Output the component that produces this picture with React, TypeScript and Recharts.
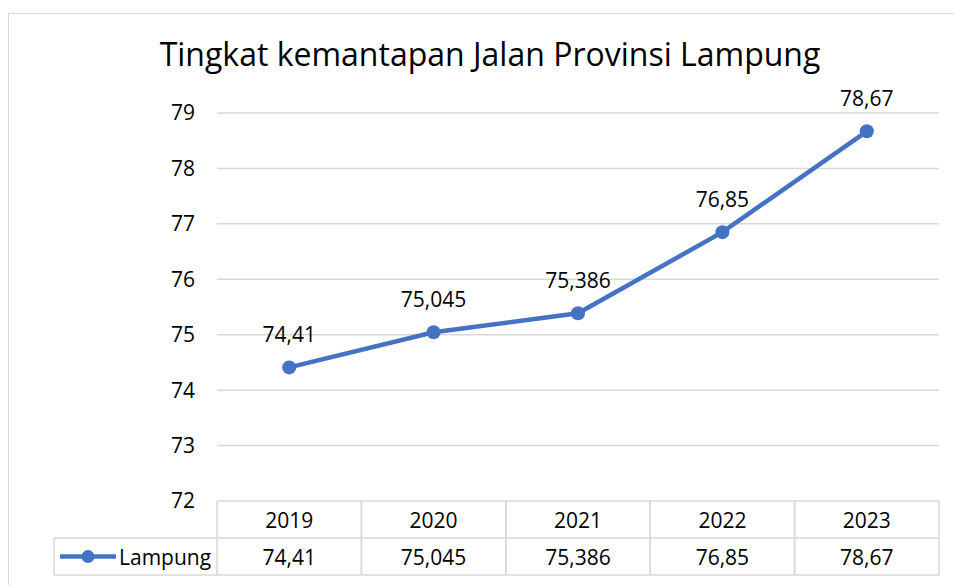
import React from 'react';
import { LineChart, CartesianGrid, XAxis, YAxis, Line, LabelList } from 'recharts';

const years = ['2019', '2020', '2021', '2022', '2023'];
const lampung = [74.41, 75.045, 75.386, 76.85, 78.67];
const yTicks = [72, 73, 74, 75, 76, 77, 78, 79];
const seriesName = 'Lampung';
const title = 'Tingkat kemantapan Jalan Provinsi Lampung';

const data = years.map((year, i) => ({ year, value: lampung[i] }));

const FONT = '"Open Sans", "Noto Sans", sans-serif';
const BLUE = '#4472C4';
const GRID = '#d9d9d9';
const HALF_CELL = 72.2;
const ROW_H = 37;
const FS = 21;

const fmt = (v: number) => String(v).replace('.', ',');

const TableTick = (props: any) => {
    const { x, y, index, payload } = props;
    const row = data[index];
    return (
        <g>
            <line x1={x - HALF_CELL} y1={y} x2={x - HALF_CELL} y2={y + ROW_H * 2} stroke={GRID} strokeWidth={1.5} />
            <line x1={x + HALF_CELL} y1={y} x2={x + HALF_CELL} y2={y + ROW_H * 2} stroke={GRID} strokeWidth={1.5} />
            <line x1={x - HALF_CELL} y1={y + ROW_H} x2={x + HALF_CELL} y2={y + ROW_H} stroke={GRID} strokeWidth={1.5} />
            <line x1={x - HALF_CELL} y1={y + ROW_H * 2} x2={x + HALF_CELL} y2={y + ROW_H * 2} stroke={GRID} strokeWidth={1.5} />
            <text x={x} y={y + ROW_H / 2} textAnchor="middle" dominantBaseline="central" fontSize={FS} fontFamily={FONT} fill="#000">
                {payload.value}
            </text>
            <text x={x} y={y + ROW_H * 1.5} textAnchor="middle" dominantBaseline="central" fontSize={FS} fontFamily={FONT} fill="#000">
                {fmt(row.value)}
            </text>
            {index === 0 && (
                <g>
                    <line x1={54} y1={y + ROW_H} x2={x - HALF_CELL} y2={y + ROW_H} stroke={GRID} strokeWidth={1.5} />
                    <line x1={54} y1={y + ROW_H * 2} x2={x - HALF_CELL} y2={y + ROW_H * 2} stroke={GRID} strokeWidth={1.5} />
                    <line x1={54} y1={y + ROW_H} x2={54} y2={y + ROW_H * 2} stroke={GRID} strokeWidth={1.5} />
                    <line x1={60} y1={y + ROW_H * 1.5} x2={116} y2={y + ROW_H * 1.5} stroke={BLUE} strokeWidth={4.5} />
                    <circle cx={88} cy={y + ROW_H * 1.5} r={6.5} fill={BLUE} />
                    <text x={119} y={y + ROW_H * 1.5} dominantBaseline="central" fontSize={FS} fontFamily={FONT} fill="#000">
                        {seriesName}
                    </text>
                </g>
            )}
        </g>
    );
};

export default function App() {
    return (
        <div style={{ position: 'absolute', left: 0, top: 0, width: 954, height: 585, background: '#fff', overflow: 'hidden', fontFamily: FONT }}>
            <div style={{ position: 'absolute', left: 8, top: 13, width: 980, height: 600, border: `1.5px solid ${GRID}` }} />
            <div style={{ position: 'absolute', left: 0, width: 980, top: 32, textAlign: 'center', fontSize: 32, lineHeight: '44px', color: '#000', whiteSpace: 'nowrap' }}>
                {title}
            </div>
            <div style={{ position: 'absolute', left: 0, top: 0 }}>
                <LineChart width={954} height={585} data={data} margin={{ top: 113, right: 15, bottom: 0, left: 157 }}>
                    <CartesianGrid horizontal vertical={false} stroke={GRID} strokeWidth={1.5} />
                    <XAxis dataKey="year" padding={{ left: HALF_CELL, right: HALF_CELL }} axisLine={false} tickLine={false} tickSize={0} tickMargin={0} height={84} tick={<TableTick />} interval={0} />
                    <YAxis domain={[72, 79]} ticks={yTicks} width={60} axisLine={false} tickLine={false} tickMargin={16} tick={{ fontSize: FS, fill: '#000', fontFamily: FONT }} />
                    <Line dataKey="value" stroke={BLUE} strokeWidth={4.5} dot={{ r: 7, fill: BLUE, stroke: 'none' }} isAnimationActive={false}>
                        <LabelList dataKey="value" position="top" offset={25} formatter={(v: any) => fmt(v)} style={{ fontSize: FS, fill: '#000', fontFamily: FONT }} />
                    </Line>
                </LineChart>
            </div>
        </div>
    );
}
